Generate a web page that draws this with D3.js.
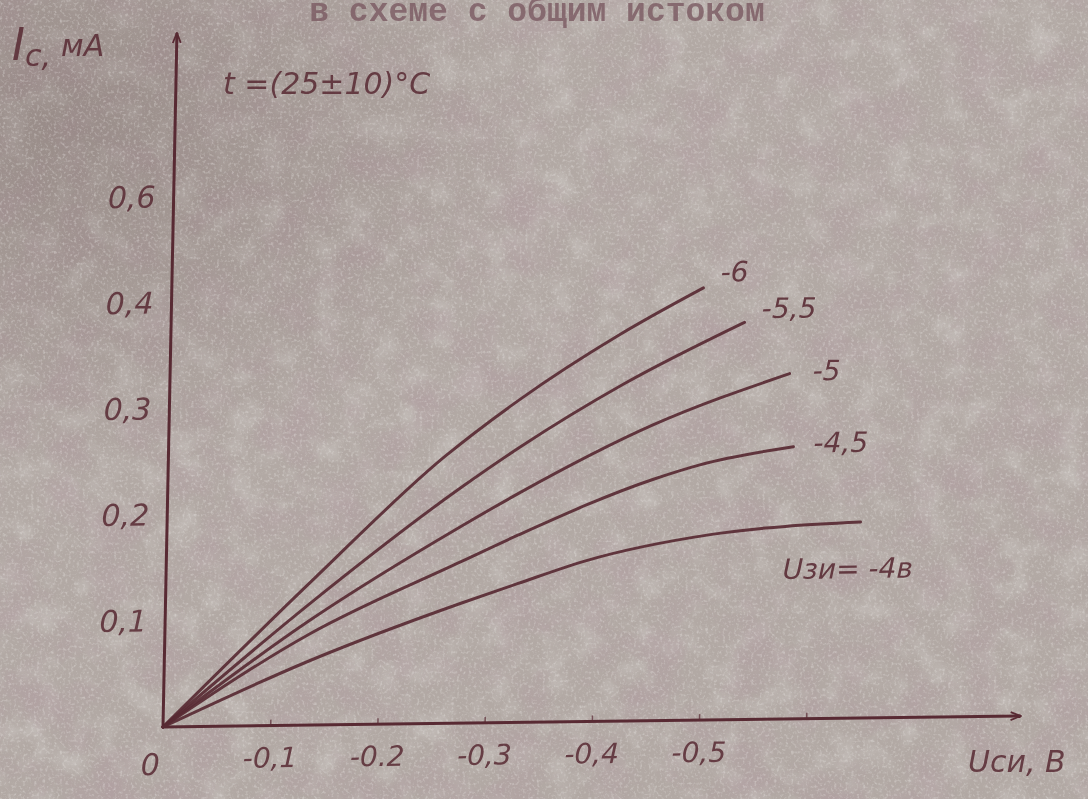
<!DOCTYPE html>
<html>
<head>
<meta charset="utf-8">
<script src="https://cdn.jsdelivr.net/npm/d3@7"></script>
<style>
  html, body { margin: 0; padding: 0; background: #b1a8a3; }
  svg { display: block; }
</style>
</head>
<body>
<svg id="chart" width="1088" height="799"></svg>
<script>
// Drain current Ic (mA) versus drain-source voltage Uси (V), common-source circuit,
// one curve per gate-source voltage Uзи.
const gateLabels = ["-6", "-5,5", "-5", "-4,5", "Uзи= -4в"];

const uSi_6   = [0, -0.134, -0.258, -0.327, -0.419, -0.496];
const iC_6    = [0,  0.134,  0.252,  0.305,  0.365,  0.408];

const uSi_5_5 = [0, -0.135, -0.273, -0.328, -0.423, -0.535];
const iC_5_5  = [0,  0.115,  0.222,  0.260,  0.318,  0.375];

const uSi_5   = [0, -0.135, -0.273, -0.327, -0.451, -0.578];
const iC_5    = [0,  0.099,  0.185,  0.216,  0.279,  0.326];

const uSi_4_5 = [0, -0.135, -0.274, -0.328, -0.453, -0.496, -0.583];
const iC_4_5  = [0,  0.086,  0.152,  0.177,  0.228,  0.241,  0.257];

const uSi_4   = [0, -0.136, -0.275, -0.328, -0.392, -0.507, -0.647];
const iC_4    = [0,  0.061,  0.113,  0.131,  0.152,  0.175,  0.185];

const xTickValues = [-0.1, -0.2, -0.3, -0.4, -0.5, -0.6];
const xTickLabels = ["-0,1", "-0.2", "-0,3", "-0,4", "-0,5", ""];
const yTickValues = [0.1, 0.2, 0.3, 0.4, 0.5];
const yTickLabels = ["0,1", "0,2", "0,3", "0,4", "0,6"];

const curves = [
  { u: uSi_6,   i: iC_6,   label: gateLabels[0], dx: 17,  dy: -6 },
  { u: uSi_5_5, i: iC_5_5, label: gateLabels[1], dx: 17,  dy: -4 },
  { u: uSi_5,   i: iC_5,   label: gateLabels[2], dx: 23,  dy: 7 },
  { u: uSi_4_5, i: iC_4_5, label: gateLabels[3], dx: 20,  dy: 6 },
  { u: uSi_4,   i: iC_4,   label: gateLabels[4], dx: -77, dy: 56 }
];

const ink = "#582a33";
const hand = "'DejaVu Sans', sans-serif";

const svg = d3.select("#chart");
const W = 1088, H = 799;
const defs = svg.append("defs");

// --- paper texture -------------------------------------------------------
function noiseFilter(id, freq, octaves, seed, matrix) {
  const f = defs.append("filter").attr("id", id)
    .attr("x", 0).attr("y", 0).attr("width", "100%").attr("height", "100%");
  f.append("feTurbulence").attr("type", "fractalNoise")
    .attr("baseFrequency", freq).attr("numOctaves", octaves).attr("seed", seed);
  f.append("feColorMatrix").attr("type", "matrix").attr("values", matrix);
}
noiseFilter("blot", 0.022, 5, 11, "0 0 0 0 0.44  0 0 0 0 0.35  0 0 0 0 0.36  2.2 0 0 0 -0.92");
noiseFilter("light", 0.035, 4, 29, "0 0 0 0 0.80  0 0 0 0 0.79  0 0 0 0 0.77  2.0 0 0 0 -0.9");
noiseFilter("grain", 0.35, 2, 3, "0 0 0 0 0.84  0 0 0 0 0.82  0 0 0 0 0.80  2.6 0 0 0 -1.3");
noiseFilter("grainDark", 0.5, 1, 8, "0 0 0 0 0.45  0 0 0 0 0.36  0 0 0 0 0.38  -2.4 0 0 0 1.0");

const shade = defs.append("radialGradient").attr("id", "shade")
  .attr("cx", 0.05).attr("cy", 0.15).attr("r", 0.45);
shade.append("stop").attr("offset", 0).attr("stop-color", "#5e4a48").attr("stop-opacity", 0.3);
shade.append("stop").attr("offset", 1).attr("stop-color", "#5e4a48").attr("stop-opacity", 0);

svg.append("rect").attr("width", W).attr("height", H).attr("fill", "#b2a9a4");
svg.append("rect").attr("width", W).attr("height", H).attr("filter", "url(#light)").attr("opacity", 0.35);
svg.append("rect").attr("width", W).attr("height", H).attr("filter", "url(#blot)").attr("opacity", 0.8);
svg.append("rect").attr("width", W).attr("height", H).attr("fill", "url(#shade)");
svg.append("rect").attr("width", W).attr("height", H).attr("filter", "url(#grain)").attr("opacity", 0.4);
svg.append("rect").attr("width", W).attr("height", H).attr("filter", "url(#grainDark)").attr("opacity", 0.3);

// --- typed heading, cut at the top edge -----------------------------------
svg.append("text")
  .attr("x", 537).attr("y", 21)
  .attr("text-anchor", "middle")
  .attr("font-family", "'Liberation Mono', monospace")
  .attr("font-weight", "bold")
  .attr("font-size", 33)
  .attr("fill", "#7b5a62").attr("opacity", 0.8)
  .text("в схеме с общим истоком");

// --- arrow markers ----------------------------------------------------------
defs.append("marker").attr("id", "arrow")
  .attr("viewBox", "0 0 12 12").attr("refX", 11).attr("refY", 6)
  .attr("markerWidth", 12).attr("markerHeight", 12)
  .attr("markerUnits", "userSpaceOnUse").attr("orient", "auto")
  .append("path").attr("d", "M1,2 L11,6 L1,10")
  .attr("fill", "none").attr("stroke", ink).attr("stroke-width", 1.8);

// --- plot frame: hand-drawn axes are slightly skewed -------------------------
const plot = svg.append("g")
  .attr("transform", "matrix(1,-0.0128,-0.0201,1,163,727)");

const x = d3.scaleLinear().domain([0, -0.8]).range([0, 857.6]);
const y = d3.scaleLinear().domain([0, 0.655]).range([0, -694]);

// x axis
const xAxis = d3.axisBottom(x)
  .tickValues(xTickValues)
  .tickFormat((d, k) => xTickLabels[k])
  .tickSizeInner(-6).tickSizeOuter(0).tickPadding(22);
const gx = plot.append("g").call(xAxis);
gx.select(".domain").remove();
gx.selectAll(".tick line").attr("stroke", ink).attr("stroke-width", 1.5).attr("opacity", 0.7);
gx.selectAll(".tick text")
  .attr("fill", ink).attr("font-family", hand).attr("font-style", "italic")
  .attr("font-size", 28).attr("opacity", 0.85);
plot.append("line")
  .attr("x1", x(0)).attr("y1", 0).attr("x2", x(-0.8)).attr("y2", 0)
  .attr("stroke", ink).attr("stroke-width", 3).attr("marker-end", "url(#arrow)");

// y axis
const yAxis = d3.axisLeft(y)
  .tickValues(yTickValues)
  .tickFormat((d, k) => yTickLabels[k])
  .tickSizeInner(0).tickSizeOuter(0).tickPadding(18);
const gy = plot.append("g").call(yAxis);
gy.select(".domain").remove();
gy.selectAll(".tick text")
  .attr("fill", ink).attr("font-family", hand).attr("font-style", "italic")
  .attr("font-size", 30).attr("opacity", 0.85);
plot.append("line")
  .attr("x1", 0).attr("y1", y(0)).attr("x2", 0).attr("y2", y(0.655))
  .attr("stroke", ink).attr("stroke-width", 3).attr("marker-end", "url(#arrow)");

// origin label
plot.append("text")
  .attr("x", x(0) - 12).attr("y", 48)
  .attr("text-anchor", "middle")
  .attr("fill", ink).attr("font-family", hand).attr("font-style", "italic")
  .attr("font-size", 30).attr("opacity", 0.85)
  .text("0");

// --- characteristic curves --------------------------------------------------
const line = d3.line()
  .x(d => x(d[0])).y(d => y(d[1]))
  .curve(d3.curveMonotoneX);

curves.forEach(c => {
  const pts = c.u.map((v, k) => [v, c.i[k]]);
  plot.append("path")
    .attr("d", line(pts))
    .attr("fill", "none")
    .attr("stroke", ink)
    .attr("stroke-width", 3)
    .attr("stroke-linecap", "round")
    .attr("opacity", 0.92);
  const end = pts[pts.length - 1];
  plot.append("text")
    .attr("x", x(end[0]) + c.dx).attr("y", y(end[1]) + c.dy)
    .attr("fill", ink).attr("font-family", hand).attr("font-style", "italic")
    .attr("font-size", 28).attr("opacity", 0.88)
    .text(c.label);
});

// --- axis titles and note ---------------------------------------------------
const yTitle = svg.append("text")
  .attr("x", 12).attr("y", 60)
  .attr("fill", ink).attr("font-family", hand).attr("font-style", "italic")
  .attr("opacity", 0.85);
yTitle.append("tspan").attr("font-size", 44).text("I");
yTitle.append("tspan").attr("font-size", 30).attr("dy", 6).text("с");
yTitle.append("tspan").attr("font-size", 30).attr("dy", 0).text(",");
yTitle.append("tspan").attr("font-size", 30).attr("dx", 10).attr("dy", -10).text("мА");

svg.append("text")
  .attr("x", 223).attr("y", 94)
  .attr("fill", ink).attr("font-family", hand).attr("font-style", "italic")
  .attr("font-size", 30).attr("opacity", 0.85)
  .text("t =(25±10)°C");

svg.append("text")
  .attr("x", 968).attr("y", 772)
  .attr("fill", ink).attr("font-family", hand).attr("font-style", "italic")
  .attr("font-size", 30).attr("opacity", 0.85)
  .text("Uси, В");
</script>
</body>
</html>
